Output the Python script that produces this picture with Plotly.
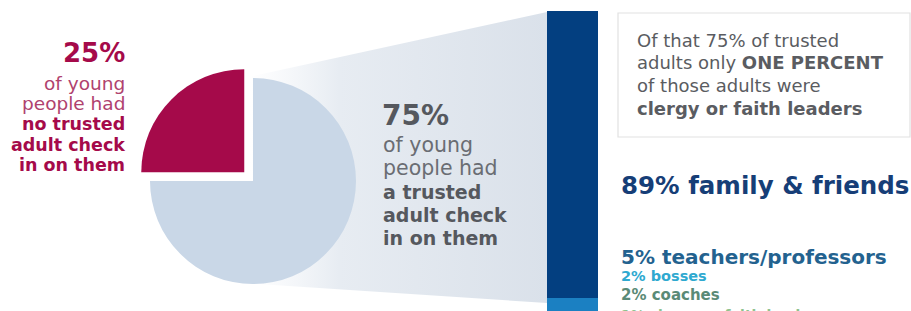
import plotly.graph_objects as go

# ---- data ----
pie_labels = ["no trusted adult check in", "trusted adult check in"]
pie_values = [25, 75]

bar_categories = ["family & friends", "teachers/professors", "bosses", "coaches", "clergy or faith leaders"]
bar_values = [89, 5, 2, 2, 1]

# ---- styles ----
CRIMSON = "#a50a4a"
PIE_BLUE = "#c9d7e7"
GRAY_TXT = "#55585e"
bar_colors = ["#033f80", "#1b80c2", "#2fb0d8", "#4f9a7c", "#8cc48c"]
label_colors = ["#163e77", "#23628f", "#2fa9d0", "#5a8a76", "#8fc28e"]
label_sizes = [24.5, 20, 14.5, 15, 14]
FONT = "DejaVu Sans"

W, H = 911, 311

fig = go.Figure()

# funnel decoration (pixel-coordinate axes x/y)
fig.add_trace(go.Scatter(
    x=[230, 547, 547, 258, 230], y=[81, 12, 303, 284, 81],
    mode="lines", line=dict(width=0), fill="toself",
    fillgradient=dict(type="horizontal", start=250, stop=547,
                      colorscale=[[0, "rgba(235,239,245,0)"], [0.3, "rgba(231,236,242,1)"], [1, "#dae1ea"]]),
    hoverinfo="skip", showlegend=False, xaxis="x", yaxis="y"))

# pie
r = 103
pull = 0.12
box = 2 * r * (1 + pull)
cx, cy = 253, 181
fig.add_trace(go.Pie(
    labels=pie_labels, values=pie_values, sort=False, direction="clockwise", rotation=-90,
    marker=dict(colors=[CRIMSON, PIE_BLUE], line=dict(width=0)),
    pull=[pull, 0], textinfo="none", hoverinfo="label+percent", showlegend=False,
    domain=dict(x=[(cx - box / 2) / W, (cx + box / 2) / W],
                y=[(H - cy - box / 2) / H, (H - cy + box / 2) / H])))

# stacked bar (x2/y2)
px_per_unit = (298 - 11) / 89.0
for cat, val, col in zip(bar_categories, bar_values, bar_colors):
    fig.add_trace(go.Bar(x=["trusted adults"], y=[val], name=cat, marker=dict(color=col, line=dict(width=0)),
                         xaxis="x2", yaxis="y2", showlegend=False, width=1))

ann = []
def A(x, y, text, size, color, xanchor="left", yanchor="middle"):
    ann.append(dict(x=x, y=y, xref="x", yref="y", text=text, showarrow=False, xanchor=xanchor, yanchor=yanchor,
                    borderpad=0, font=dict(family=FONT, size=size, color=color)))

# left block
A(126, 53, "<b>25%</b>", 26, CRIMSON, "right")
left_lines = [("of young", False), ("people had", False), ("no trusted", True), ("adult check", True), ("in on them", True)]
for i, (t, b) in enumerate(left_lines):
    A(126, 83 + i * 20.6, f"<b>{t}</b>" if b else t, 17.5 if b else 18.5, CRIMSON if b else "#b0426e", "right")

# middle block
A(381, 115, "<b>75%</b>", 28, GRAY_TXT)
mid_lines = [("of young", False), ("people had", False), ("a trusted", True), ("adult check", True), ("in on them", True)]
for i, (t, b) in enumerate(mid_lines):
    A(382, 145 + i * 23.3, f"<b>{t}</b>" if b else t, 19 if b else 20.5, GRAY_TXT if b else "#6a6d73")

# box
box_lines = ["Of that 75% of trusted", "adults only <b>ONE PERCENT</b>", "of those adults were", "<b>clergy or faith leaders</b>"]
for i, t in enumerate(box_lines):
    A(636, 40 + i * 22.7, t, 18, "#5a5c61")

# category labels
label_y = [185, 257, 276, 295, 306]
for i, (cat, val) in enumerate(zip(bar_categories, bar_values)):
    yanchor = "top" if i == 4 else "middle"
    A(620, label_y[i], f"<b>{val}% {cat}</b>", label_sizes[i], label_colors[i], "left", yanchor)

fig.update_layout(
    width=W, height=H, margin=dict(l=0, r=0, t=0, b=0),
    paper_bgcolor="white", plot_bgcolor="rgba(0,0,0,0)",
    barmode="stack", bargap=0,
    xaxis=dict(range=[0, W], domain=[0, 1], visible=False, fixedrange=True),
    yaxis=dict(range=[H, 0], domain=[0, 1], visible=False, fixedrange=True),
    xaxis2=dict(domain=[547 / W, 598 / W], anchor="y2", type="category", range=[-0.5, 0.5], visible=False),
    yaxis2=dict(domain=[0, 1], anchor="x2", range=[(H - 11) / px_per_unit, -11 / px_per_unit], visible=False),
    shapes=[dict(type="rect", xref="x", yref="y", x0=618, x1=910, y0=13, y1=137,
                 line=dict(color="#e2e2e2", width=1.2), fillcolor="white", layer="below")],
    annotations=ann,
)

fig.write_html("out.html", config={"displayModeBar": False},
               post_script="document.body.style.margin='0';document.body.style.overflow='hidden';")
